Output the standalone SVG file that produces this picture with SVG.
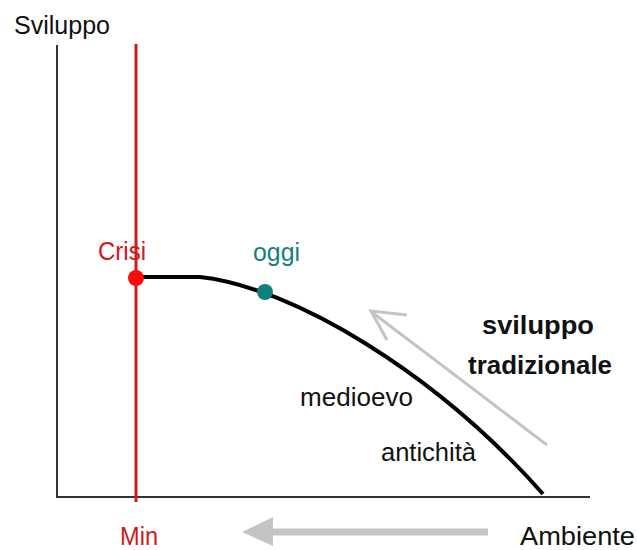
<svg xmlns="http://www.w3.org/2000/svg" width="637" height="550" viewBox="0 0 637 550">
<style>
text{font-family:"Liberation Sans",Arial,sans-serif;font-size:25px}
.blk{fill:#111}
.red{fill:#d01818}
.teal{fill:#138080}
.bold{font-weight:bold}
.gray{stroke:#c4c4c4;fill:none}
</style>
<rect width="637" height="550" fill="#fff"/>
<g id="axes">
<line x1="57" y1="45" x2="57" y2="498" stroke="#333" stroke-width="2"/>
<line x1="56" y1="497" x2="590" y2="497" stroke="#333" stroke-width="2"/>
</g>
<g id="connectors">
<path d="M136,277 L200,277 C 292,287 435,372 543,494" fill="none" stroke="#000" stroke-width="4"/>
<line x1="136" y1="44" x2="136" y2="502" stroke="#cc1c1c" stroke-width="3"/>
<g class="gray" stroke-width="3">
<line x1="547" y1="445" x2="373" y2="313"/>
<polyline points="407,315 371,311 387,340"/>
</g>
<line x1="488" y1="532" x2="268" y2="532" stroke="#c4c4c4" stroke-width="7"/>
<polygon points="242,532 273,517 273,546" fill="#c4c4c4"/>
</g>
<g id="crisi"><circle cx="136" cy="278" r="8" fill="#ff0a0a"/><text x="98" y="260" class="red" textLength="48" lengthAdjust="spacingAndGlyphs">Crisi</text></g>
<g id="oggi"><circle cx="265" cy="292" r="8" fill="#0f7f7f"/><text x="253" y="261" class="teal" textLength="47" lengthAdjust="spacingAndGlyphs">oggi</text></g>
<g id="labels">
<text x="14" y="34" class="blk" textLength="96" lengthAdjust="spacingAndGlyphs">Sviluppo</text>
<text x="120" y="545" class="red" textLength="38" lengthAdjust="spacingAndGlyphs">Min</text>
<text x="520" y="545" class="blk" textLength="115" lengthAdjust="spacingAndGlyphs">Ambiente</text>
<text x="300" y="406" class="blk" textLength="113" lengthAdjust="spacingAndGlyphs">medioevo</text>
<text x="381" y="461" class="blk" textLength="95" lengthAdjust="spacingAndGlyphs">antichità</text>
<text x="482" y="334" class="blk bold" textLength="112" lengthAdjust="spacingAndGlyphs">sviluppo</text>
<text x="468" y="374" class="blk bold" textLength="144" lengthAdjust="spacingAndGlyphs">tradizionale</text>
</g>
</svg>
